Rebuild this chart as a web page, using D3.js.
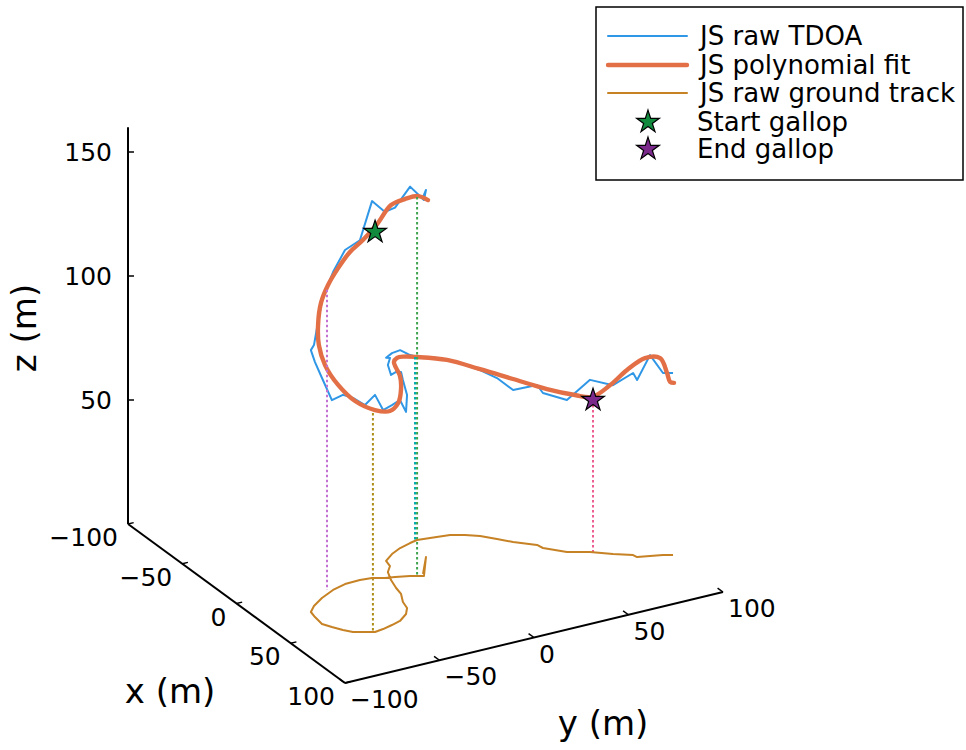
<!DOCTYPE html>
<html>
<head>
    <meta charset="utf-8">
    <title>Gallop track 3D</title>
    <script src="https://d3js.org/d3.v7.min.js"></script>
    <style>
        body {margin: 0; background: #ffffff;}
        svg {font-family: "DejaVu Sans", sans-serif; display: block;}
    </style>
</head>
<body>
<script>
    // raw TDOA positions (m); the ground track is the same x/y laid at z = 0
    const rawX = [14.6,-0.8,16.7,13.5,11.1,9.7,6.8,5.9,6.3,9.2,14.3,20.0,25.0,30.7,38.9,44.0,49.3,53.5,56.2,58.5,
                  57.6,55.8,53.8,48.6,43.1,36.5,28.5,21.7,13.0,4.7,-0.5,-6.2,-11.4,-15.2,-17.7,-19.0,-17.9,-16.2,-12.8,-8.4,
                  -1.7,4.8,13.1,17.3,26.5,31.8,39.0,44.5,47.3,49.3,51.3,53.6];
    const rawY = [-9.7,0.7,-10.4,-15.9,-22.5,-27.0,-32.2,-38.1,-46.2,-54.2,-63.0,-70.5,-75.0,-76.1,-77.1,-74.8,-72.0,-69.1,-64.3,-60.3,
                  -55.5,-49.8,-44.4,-38.2,-34.5,-32.9,-29.3,-28.0,-25.7,-22.6,-18.5,-17.3,-11.2,-4.7,2.0,6.4,12.7,22.3,28.2,33.7,
                  38.8,43.6,51.5,52.2,59.6,68.8,76.8,84.3,84.8,90.5,96.2,100.2];
    const rawZ = [152,148,151.6,157,149,147.6,152,137,134.7,128.2,120.2,105.2,105.6,102.8,99.2,91.5,94.8,94.4,91.5,95.6,
                  88.3,88.7,89.1,81.5,85.9,89.5,89.5,87.1,82.7,83.5,83.9,81.9,81.0,79.8,75.8,73.8,73.0,70.6,68.5,66.9,
                  64.9,61.3,64.5,62.5,61.3,69.4,68.1,73.4,71.4,81.0,73.4,73.4];

    // polynomial fit
    const fitX = [17.6,15.4,13.3,11.1,8.9,6.6,7.4,10.4,14.7,19.7,25.7,30.6,37.7,45.4,53.0,57.6,57.2,53.4,45.5,34.0,
                  21.7,8.9,-4.6,-13.4,-18.0,-15.9,-7.4,3.8,18.2,28.4,33.2,38.3,43.1,48.1,51.6,53.1,53.8,54.7];
    const fitY = [-8.8,-12.7,-18.5,-24.6,-30.7,-36.9,-44.2,-52.2,-60.0,-66.6,-71.6,-74.0,-74.8,-72.3,-67.7,-59.8,-51.7,-45.1,-39.1,-33.0,
                  -28.0,-21.8,-12.4,-3.7,5.9,20.5,33.1,44.1,53.8,62.8,69.0,75.7,81.9,88.5,94.5,97.3,98.5,100.1];
    const fitZ = [151.6,153.2,152.4,150.4,143.1,137.1,133.9,129.8,125.8,121.4,115.3,109.3,103.6,97.6,92.7,89.1,87.1,87.9,89.5,90.3,
                  88.7,85.9,81.5,77.6,74.2,71.0,67.7,65.3,64.1,63.3,62.9,68.1,74.6,79.8,79.8,73.8,70.2,69.8];

    // vertical drop lines to the ground
    const dropX = [14.2, 7.8, 57.1, -19.4, 33.5];
    const dropY = [-12.6, -56.6, -60.6, 5.6, 69.4];
    const dropZ = [152.4, 121, 87.9, 73.8, 61.7];
    const dropColors = ["#3ea44e", "#c371d2", "#ac8e18", "#00aaae", "#ed5e93"];

    // gallop markers
    const markerNames = ["Start gallop", "End gallop"];
    const markerX = [8.4, 33.5];
    const markerY = [-31.5, 69.4];
    const markerZ = [139.9, 61.7];
    const markerColors = ["#118a3e", "#7b2a8c"];

    const xTicks = [-100, -50, 0, 50, 100];
    const yTicks = [-100, -50, 0, 50, 100];
    const zTicks = [50, 100, 150];

    const width = 966, height = 750;

    const svg = d3.select("body").append("svg")
        .attr("width", width)
        .attr("height", height);

    // oblique 3D projection built from linear scales
    const xScale = d3.scaleLinear().domain([-100, 100]).range([[128, 524], [345, 683]]);
    const yScale = d3.scaleLinear().domain([-100, 100]).range([[0, 0], [378, -91]]);
    const zScale = d3.scaleLinear().domain([0, 160]).range([0, -396.8]);

    function project(x, y, z) {
        const px = xScale(x), py = yScale(y);
        return [px[0] + py[0], px[1] + py[1] + zScale(z)];
    }

    const fmt = d3.format("d");
    const line = d3.line();
    const smooth = d3.line().curve(d3.curveCatmullRom.alpha(0.5));

    // axes
    const axes = svg.append("g").attr("stroke", "#000").attr("stroke-width", 2).attr("fill", "none");
    axes.append("path").attr("d", line([project(-100, -100, 0), project(-100, -100, 160)]));
    axes.append("path").attr("d", line([project(-100, -100, 0), project(100, -100, 0)]));
    axes.append("path").attr("d", line([project(100, -100, 0), project(100, 100, 0)]));

    const ticks = svg.append("g").attr("stroke", "#000").attr("stroke-width", 1.5);
    const labels = svg.append("g").attr("font-size", 25).attr("fill", "#000");

    zTicks.forEach(function(t) {
        const p = project(-100, -100, t);
        ticks.append("line").attr("x1", p[0]).attr("y1", p[1]).attr("x2", p[0] + 6).attr("y2", p[1]);
        labels.append("text").attr("x", p[0] - 16).attr("y", p[1] + 2)
            .attr("text-anchor", "end").attr("dominant-baseline", "middle").text(fmt(t));
    });

    xTicks.forEach(function(t) {
        const p = project(t, -100, 0), q = project(t, -97, 0);
        ticks.append("line").attr("x1", p[0]).attr("y1", p[1]).attr("x2", q[0]).attr("y2", q[1]);
        labels.append("text").attr("x", p[0] - 10).attr("y", p[1] + 15)
            .attr("text-anchor", "end").attr("dominant-baseline", "middle").text(fmt(t));
    });

    yTicks.forEach(function(t) {
        const p = project(100, t, 0), q = project(95, t, 0);
        ticks.append("line").attr("x1", p[0]).attr("y1", p[1]).attr("x2", q[0]).attr("y2", q[1]);
        labels.append("text").attr("x", p[0] + 5).attr("y", p[1] + 18)
            .attr("text-anchor", "start").attr("dominant-baseline", "middle").text(fmt(t));
    });

    // axis titles
    svg.append("text").attr("transform", "translate(36,328) rotate(-90)")
        .attr("text-anchor", "middle").attr("font-size", 34).text("z (m)");
    svg.append("text").attr("x", 170).attr("y", 703)
        .attr("text-anchor", "middle").attr("font-size", 34).text("x (m)");
    svg.append("text").attr("x", 603).attr("y", 735)
        .attr("text-anchor", "middle").attr("font-size", 34).text("y (m)");

    // raw TDOA track
    const rawPts = rawX.map(function(x, i) { return project(x, rawY[i], rawZ[i]); });
    svg.append("path").attr("d", line(rawPts))
        .attr("fill", "none").attr("stroke", "#2f97e6").attr("stroke-width", 2)
        .attr("stroke-linejoin", "round");

    // polynomial fit
    const fitPts = fitX.map(function(x, i) { return project(x, fitY[i], fitZ[i]); });
    svg.append("path").attr("d", smooth(fitPts))
        .attr("fill", "none").attr("stroke", "#e36f47").attr("stroke-width", 4.4)
        .attr("stroke-linecap", "round").attr("stroke-linejoin", "round");

    // drop lines
    dropX.forEach(function(x, i) {
        svg.append("path")
            .attr("d", line([project(x, dropY[i], dropZ[i]), project(x, dropY[i], 0)]))
            .attr("stroke", dropColors[i]).attr("stroke-width", 2)
            .attr("stroke-dasharray", "2.5,2.5").attr("fill", "none");
    });

    // raw ground track
    const groundPts = rawX.map(function(x, i) { return project(x, rawY[i], 0); });
    svg.append("path").attr("d", line(groundPts))
        .attr("fill", "none").attr("stroke", "#c68225").attr("stroke-width", 2)
        .attr("stroke-linejoin", "round");

    // markers
    const star = d3.symbol().type(d3.symbolStar).size(160);
    markerX.forEach(function(x, i) {
        const p = project(x, markerY[i], markerZ[i]);
        svg.append("path").attr("d", star())
            .attr("transform", "translate(" + p[0] + "," + p[1] + ")")
            .attr("fill", markerColors[i]).attr("stroke", "#000").attr("stroke-width", 1.2);
    });

    // legend
    const legend = svg.append("g").attr("font-size", 26);
    legend.append("rect").attr("x", 596).attr("y", 7).attr("width", 367).attr("height", 173)
        .attr("fill", "#fff").attr("stroke", "#000").attr("stroke-width", 1.5);
    const legendNames = ["JS raw TDOA", "JS polynomial fit", "JS raw ground track"];
    const legendColors = ["#2f97e6", "#e36f47", "#c68225"];
    const legendWidths = [2, 4.4, 2];
    const rowY = [36, 65, 93, 122, 149];
    legendNames.forEach(function(name, i) {
        legend.append("line").attr("x1", 608).attr("x2", 687).attr("y1", rowY[i]).attr("y2", rowY[i])
            .attr("stroke", legendColors[i]).attr("stroke-width", legendWidths[i]).attr("stroke-linecap", "round");
        legend.append("text").attr("x", 700).attr("y", rowY[i]).attr("dominant-baseline", "central").text(name);
    });
    markerNames.forEach(function(name, i) {
        const y = rowY[3 + i];
        legend.append("path").attr("d", star())
            .attr("transform", "translate(648," + y + ")")
            .attr("fill", markerColors[i]).attr("stroke", "#000").attr("stroke-width", 1.2);
        legend.append("text").attr("x", 697).attr("y", y).attr("dominant-baseline", "central").text(name);
    });
</script>
</body>
</html>
